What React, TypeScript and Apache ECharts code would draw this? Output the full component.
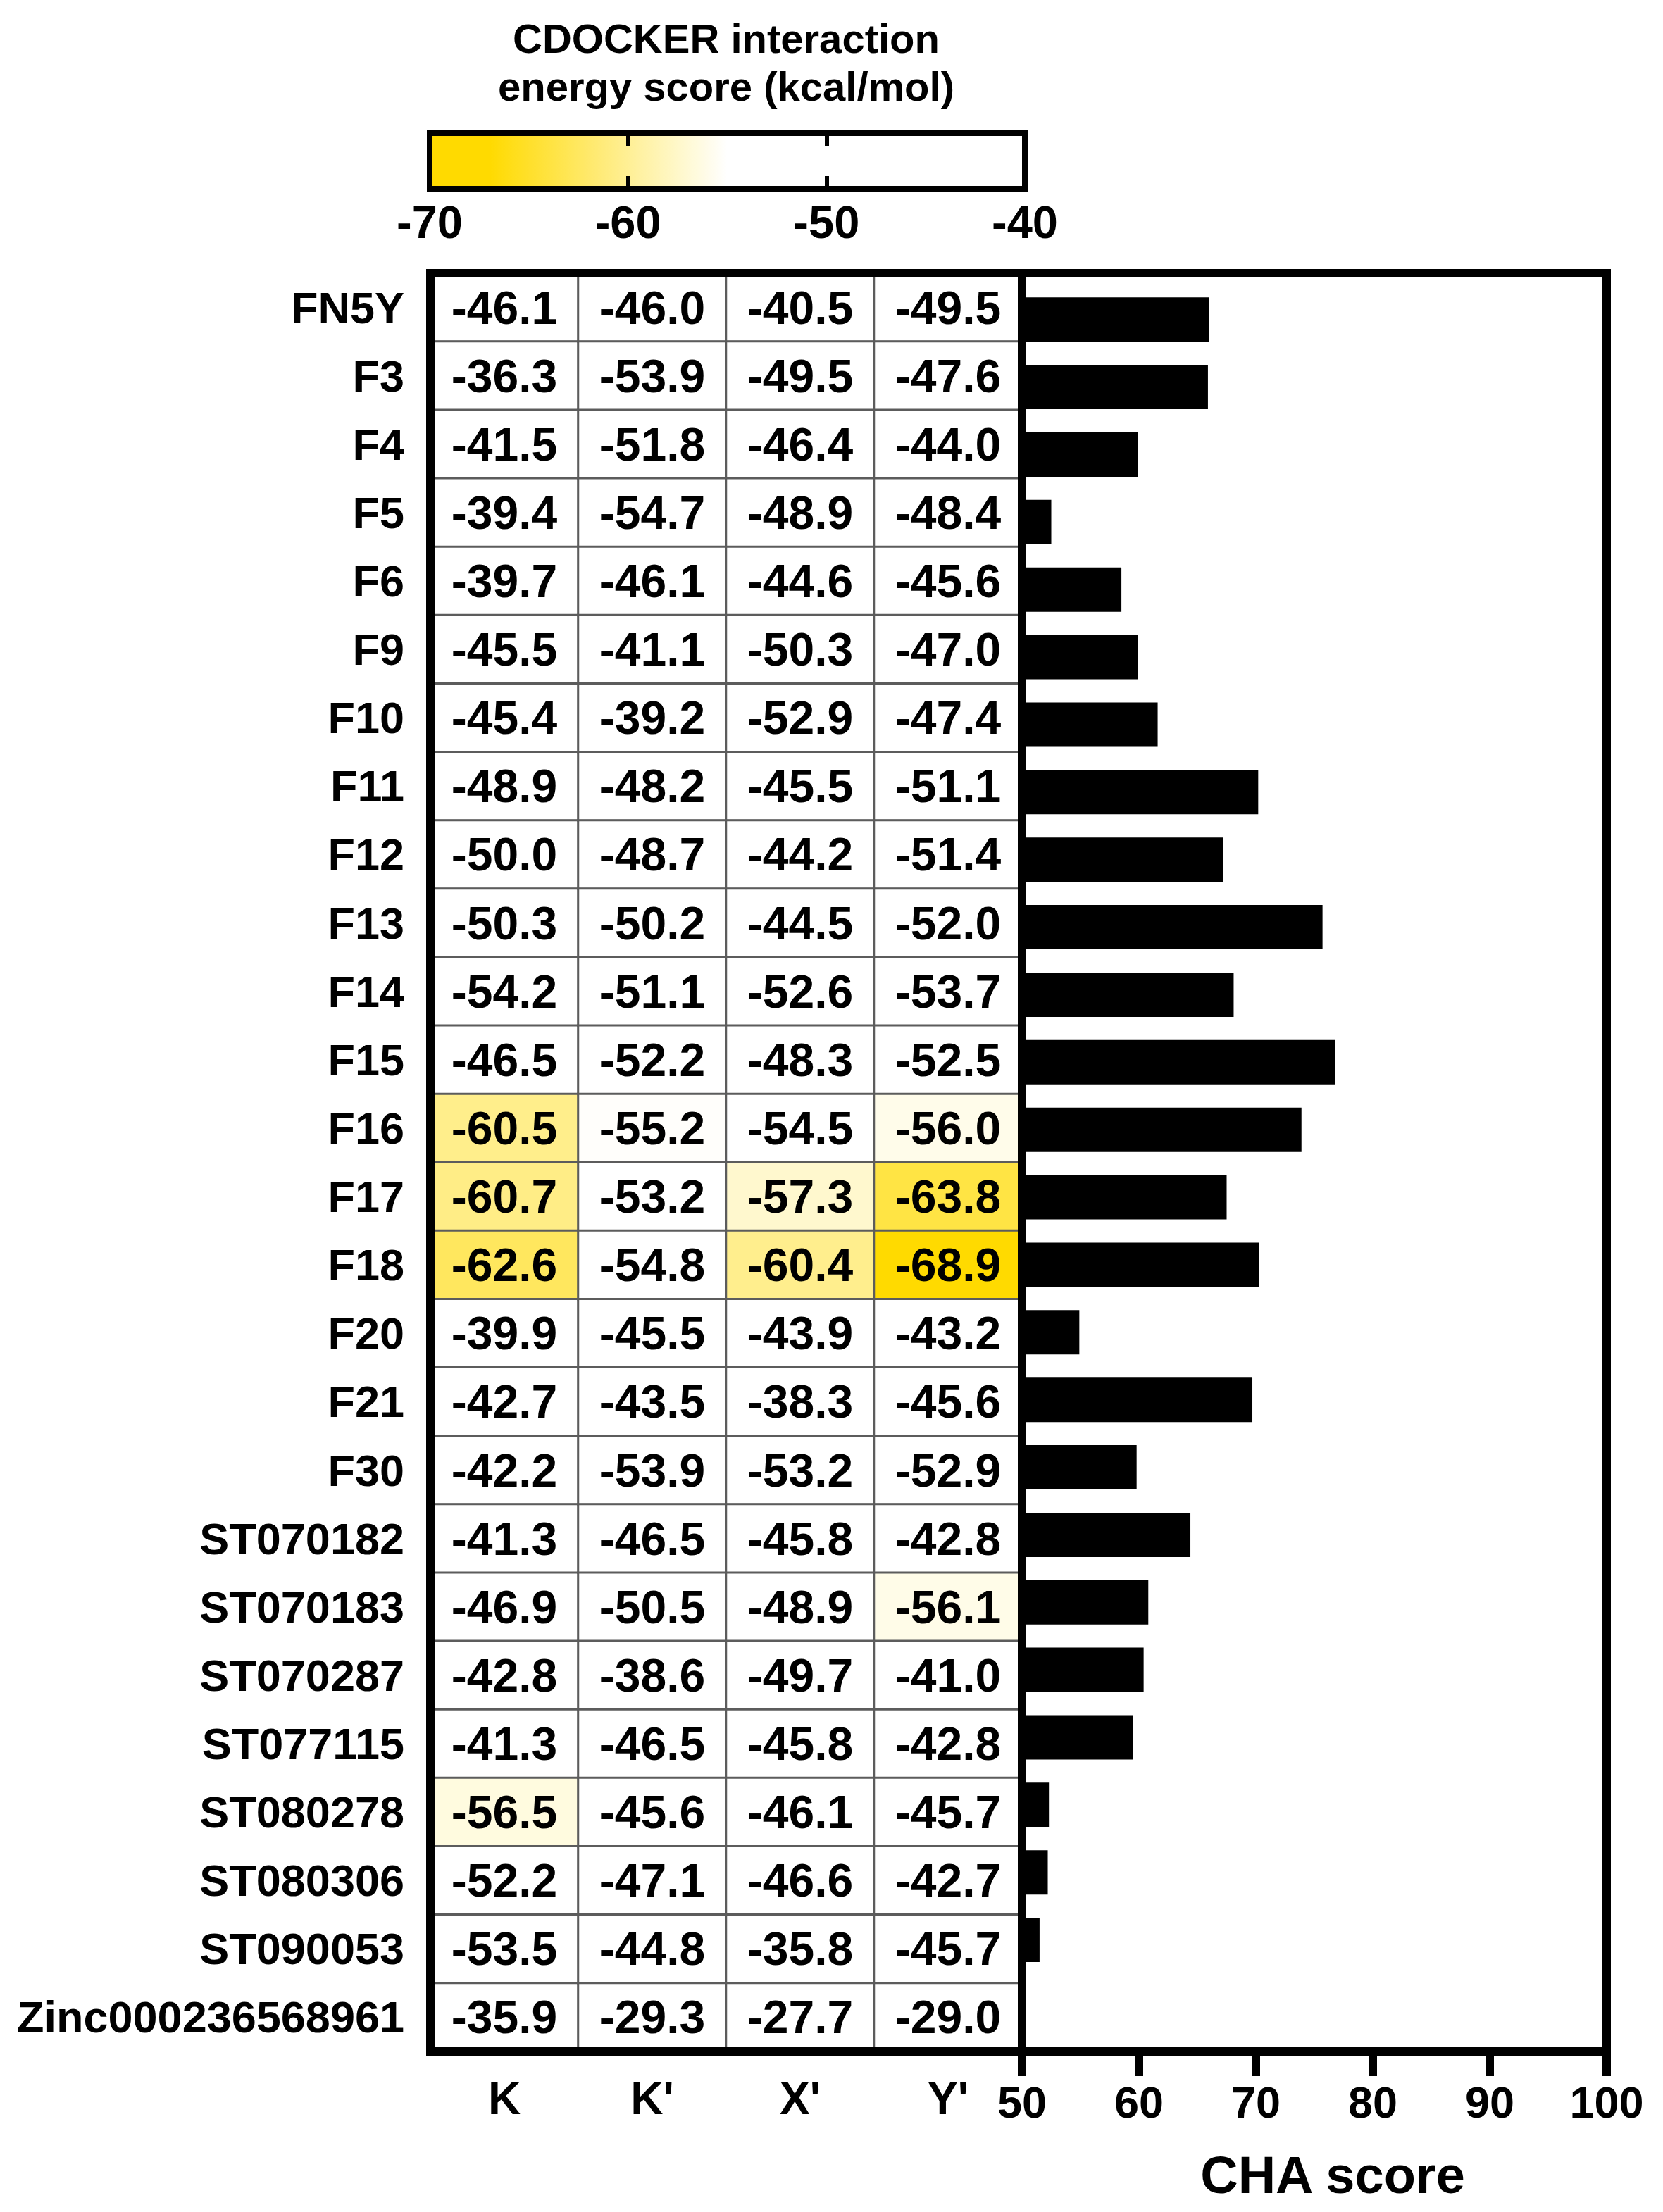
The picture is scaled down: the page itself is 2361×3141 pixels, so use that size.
import React, { useEffect, useRef } from "react";
import * as echarts from "echarts";

const compounds = [
  "FN5Y", "F3", "F4", "F5", "F6", "F9", "F10", "F11", "F12", "F13", "F14", "F15", "F16",
  "F17", "F18", "F20", "F21", "F30", "ST070182", "ST070183", "ST070287", "ST077115",
  "ST080278", "ST080306", "ST090053", "Zinc000236568961",
];
const columns = ["K", "K'", "X'", "Y'"];
const kScores = [-46.1, -36.3, -41.5, -39.4, -39.7, -45.5, -45.4, -48.9, -50.0, -50.3, -54.2, -46.5, -60.5, -60.7, -62.6, -39.9, -42.7, -42.2, -41.3, -46.9, -42.8, -41.3, -56.5, -52.2, -53.5, -35.9];
const kPrimeScores = [-46.0, -53.9, -51.8, -54.7, -46.1, -41.1, -39.2, -48.2, -48.7, -50.2, -51.1, -52.2, -55.2, -53.2, -54.8, -45.5, -43.5, -53.9, -46.5, -50.5, -38.6, -46.5, -45.6, -47.1, -44.8, -29.3];
const xPrimeScores = [-40.5, -49.5, -46.4, -48.9, -44.6, -50.3, -52.9, -45.5, -44.2, -44.5, -52.6, -48.3, -54.5, -57.3, -60.4, -43.9, -38.3, -53.2, -45.8, -48.9, -49.7, -45.8, -46.1, -46.6, -35.8, -27.7];
const yPrimeScores = [-49.5, -47.6, -44.0, -48.4, -45.6, -47.0, -47.4, -51.1, -51.4, -52.0, -53.7, -52.5, -56.0, -63.8, -68.9, -43.2, -45.6, -52.9, -42.8, -56.1, -41.0, -42.8, -45.7, -42.7, -45.7, -29.0];
const chaScores = [66.0, 65.9, 59.9, 52.5, 58.5, 59.9, 61.6, 70.2, 67.2, 75.7, 68.1, 76.8, 73.9, 67.5, 70.3, 54.9, 69.7, 59.8, 64.4, 60.8, 60.4, 59.5, 52.3, 52.2, 51.5, 50.0];

const energyMin = -70;
const energyMax = -40;
const energyColors = ["#FFDA00", "#FFDA00", "#FFE340", "#FFEC80", "#FFF6BF", "#FFFFFF", "#FFFFFF", "#FFFFFF", "#FFFFFF", "#FFFFFF", "#FFFFFF"];
const titleLines = ["CDOCKER interaction", "energy score (kcal/mol)"];

const FONT = "'Liberation Sans', Arial, Helvetica, sans-serif";

export default function App() {
  const ref = useRef<HTMLDivElement>(null);
  useEffect(() => {
    if (!ref.current) return;
    const chart = echarts.init(ref.current, undefined, { renderer: "svg" });
    const scoreColumns = [kScores, kPrimeScores, xPrimeScores, yPrimeScores];
    const heatData: any[] = [];
    scoreColumns.forEach((col, ci) => col.forEach((v, ri) => heatData.push([ci, ri, v])));

    // layout
    const hmLeft = 611, hmRight = 1451, tTop = 388, tBottom = 2913;
    const barRight = 2281;
    const barTop = 405.8, barBottom = 2898.4;
    const cbLeft = 610, cbRight = 1455, cbTop = 189, cbBottom = 268;

    const option: any = {
      animation: false,
      backgroundColor: "#ffffff",
      textStyle: { fontFamily: FONT },
      grid: [
        { left: hmLeft, top: tTop, width: hmRight - hmLeft, height: tBottom - tTop, show: true, borderColor: "#000", borderWidth: 12, backgroundColor: "transparent", z: 10 },
        { left: hmRight, top: barTop, width: barRight - hmRight, height: barBottom - barTop },
        { left: hmRight, top: tTop, width: barRight - hmRight, height: tBottom - tTop, show: true, borderColor: "#000", borderWidth: 12, backgroundColor: "transparent", z: 10 },
        { left: cbLeft, top: cbTop, width: cbRight - cbLeft, height: cbBottom - cbTop, show: true, borderColor: "#000", borderWidth: 8, backgroundColor: "transparent", z: 10 },
      ],
      xAxis: [
        {
          gridIndex: 0, type: "category", data: columns, position: "bottom",
          axisLine: { show: false }, axisTick: { show: false }, splitLine: { show: false },
          axisLabel: { fontSize: 64, fontWeight: "bold", color: "#000", fontFamily: FONT, margin: 67, verticalAlign: "middle" },
        },
        {
          gridIndex: 1, type: "value", min: 50, max: 100, interval: 10, startValue: 50, position: "bottom",
          offset: tBottom - barBottom, z: 12,
          axisLine: { show: false },
          axisTick: { show: true, length: 35, lineStyle: { color: "#000", width: 12 } },
          splitLine: { show: false },
          axisLabel: { fontSize: 63, fontWeight: "bold", color: "#000", fontFamily: FONT, margin: 72, verticalAlign: "middle" },
          name: "CHA score", nameLocation: "middle", nameGap: 175,
          nameTextStyle: { fontSize: 74, fontWeight: "bold", color: "#000", fontFamily: FONT, verticalAlign: "middle", padding: [0, 0, 0, 52] },
        },
        { gridIndex: 2, type: "value", show: false },
        {
          gridIndex: 3, type: "value", min: energyMin, max: energyMax, interval: 10, position: "bottom", z: 12,
          axisLine: { show: false },
          axisTick: { show: true, inside: true, length: 18, lineStyle: { color: "#000", width: 6 } },
          splitLine: { show: false },
          axisLabel: { fontSize: 65, fontWeight: "bold", color: "#000", fontFamily: FONT, margin: 47, verticalAlign: "middle" },
        },
        {
          gridIndex: 3, type: "value", min: energyMin, max: energyMax, interval: 10, position: "top", z: 12,
          axisLine: { show: false },
          axisTick: { show: true, inside: true, length: 18, lineStyle: { color: "#000", width: 6 } },
          splitLine: { show: false },
          axisLabel: { show: false },
        },
      ],
      yAxis: [
        {
          gridIndex: 0, type: "category", data: compounds, inverse: true,
          axisLine: { show: false }, axisTick: { show: false }, splitLine: { show: false },
          axisLabel: { fontSize: 63, fontWeight: "bold", color: "#000", fontFamily: FONT, margin: 37 },
        },
        { gridIndex: 1, type: "category", data: compounds, inverse: true, show: false },
        { gridIndex: 2, type: "value", show: false },
        { gridIndex: 3, type: "value", show: false },
      ],
      visualMap: {
        type: "continuous",
        min: energyMin,
        max: energyMax,
        seriesIndex: 0,
        dimension: 2,
        show: true,
        orient: "horizontal",
        calculable: false,
        hoverLink: false,
        left: cbLeft,
        top: cbTop,
        padding: 0,
        itemWidth: cbBottom - cbTop,
        itemHeight: cbRight - cbLeft,
        text: null,
        showLabel: false,
        inRange: { color: energyColors },
        outOfRange: { color: ["#FFFFFF"] },
        z: 4,
      },
      series: [
        {
          type: "heatmap",
          xAxisIndex: 0,
          yAxisIndex: 0,
          data: heatData,
          itemStyle: { borderColor: "#5c5c5c", borderWidth: 3 },
          label: {
            show: true,
            formatter: (p: any) => Number(p.value[2]).toFixed(1),
            fontSize: 66,
            fontWeight: "bold",
            color: "#000",
            fontFamily: FONT,
          },
          emphasis: { disabled: true },
        },
        {
          type: "bar",
          xAxisIndex: 1,
          yAxisIndex: 1,
          data: chaScores,
          barWidth: 63,
          itemStyle: { color: "#000" },
          clip: true,
        },
      ],
      graphic: [
        {
          type: "text", x: 1031, y: 54,
          style: { text: titleLines[0], align: "center", verticalAlign: "middle", fontSize: 58, fontWeight: "bold", fontFamily: FONT, fill: "#000" },
        },
        {
          type: "text", x: 1031, y: 122,
          style: { text: titleLines[1], align: "center", verticalAlign: "middle", fontSize: 58, fontWeight: "bold", fontFamily: FONT, fill: "#000" },
        },
      ],
    };
    chart.setOption(option);
    return () => chart.dispose();
  }, []);
  return (
    <div
      ref={ref}
      style={{ position: "absolute", left: 0, top: 0, width: 2361, height: 3141, background: "#fff" }}
    />
  );
}
